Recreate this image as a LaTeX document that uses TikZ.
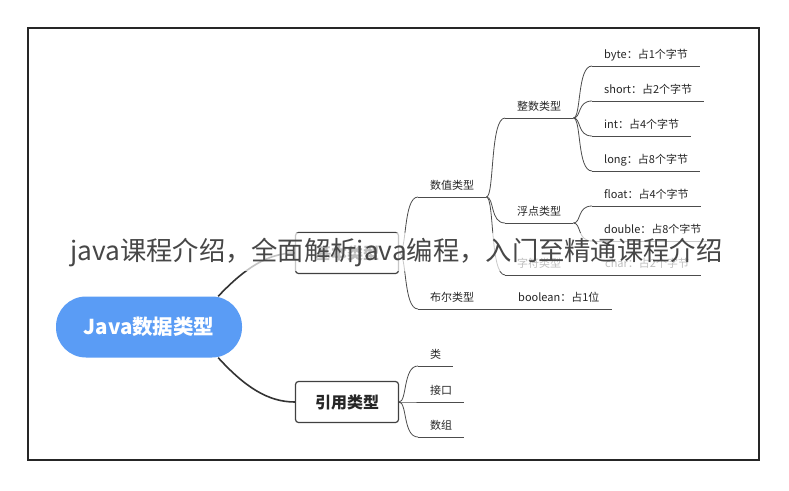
\documentclass[tikz,border=0pt]{standalone}
\usepackage{fontspec}
\setmainfont{Noto Sans CJK SC}
\usetikzlibrary{calc,positioning}
\definecolor{rootblue}{RGB}{90,156,245}
\tikzset{
  box/.style={draw=black!75, line width=1.2pt, rounded corners=3pt, minimum width=103pt, minimum height=41pt, font=\bfseries\fontsize{16}{18}\selectfont, text=black!85},
  item/.style={anchor=south west, inner xsep=12pt, inner ysep=5pt, text height=8.5pt, text depth=2.5pt, font=\fontsize{11}{13}\selectfont, text=black!85},
  uline/.style={draw=black!70, line width=0.8pt},
  link/.style={uline, to path={.. controls ($(\tikztostart)+(8,0)$) and ($(\tikztotarget)+(-15,0)$) .. (\tikztotarget)}},
  trunk/.style={draw=black!80, line width=1.6pt}
}
\begin{document}
\begin{tikzpicture}[x=1pt,y=-1pt]
    \useasboundingbox (0,0) rectangle (789,490);
    \fill[white] (0,0) rectangle (789,490);

    \node[fill=rootblue, rounded corners=30pt, minimum width=186pt, minimum height=61pt, text=white, font=\bfseries\fontsize{20.5}{22}\selectfont] (root) at (149,327) {Java数据类型};
    \node[box] (base) at (347,253) {基本类型};
    \node[box] (ref) at (347,402) {引用类型};

    \node[item] (num) at (418,197) {数值类型};
    \node[item] (bool) at (418,309) {布尔类型};
    \node[item] (boolv) at (506,309) {boolean：占1位};
    \node[item] (intg) at (505,118) {整数类型};
    \node[item] (flt) at (505,223) {浮点类型};
    \node[item] (chr) at (505,275) {字符类型};
    \node[item] (chrv) at (593,275) {char：占2个字节};
    \node[item] (byte) at (592,66) {byte：占1个字节};
    \node[item] (short) at (592,101) {short：占2个字节};
    \node[item] (int) at (592,136) {int：占4个字节};
    \node[item] (long) at (592,171) {long：占8个字节};
    \node[item] (float) at (592,206) {float：占4个字节};
    \node[item] (double) at (592,241) {double：占8个字节};
    \node[item] (cls) at (418,366) {类};
    \node[item] (itf) at (418,402) {接口};
    \node[item] (arr) at (418,437) {数组};

    \draw[trunk] ($(root.north east)+(-24,0)$) .. controls (245,268) and (268,253) .. (base.west);
    \draw[trunk] ($(root.south east)+(-24,0)$) .. controls (245,387) and (268,402) .. (ref.west);

    \draw[link] (base.east) to (num.south west) (base.east) to (bool.south west);
    \foreach \c in {intg,flt,chr} \draw[link] (num.south east) to (\c.south west);
    \foreach \c in {byte,short,int,long} \draw[link] (intg.south east) to (\c.south west);
    \foreach \c in {float,double} \draw[link] (flt.south east) to (\c.south west);
    \foreach \c in {cls,itf,arr} \draw[link] (ref.east) to (\c.south west);
    \draw[uline] (bool.south east) -- (boolv.south west);
    \draw[uline] (chr.south east) -- (chrv.south west);
    \foreach \n in {num,bool,boolv,intg,flt,chr,chrv,byte,short,int,long,float,double,cls,itf,arr}
        \draw[uline] (\n.south west) -- (\n.south east);

    % watermark over the picture
    \node[anchor=base west, fill=white, fill opacity=0.7, text opacity=1, inner xsep=2pt, inner ysep=5pt, font=\fontsize{26.3}{28}\selectfont, text=black!72] (wm) at (68,260) {java课程介绍，全面解析java编程，入门至精通课程介绍};

    \draw[line width=2pt, black!85] (28,28) rectangle (759,460);
\end{tikzpicture}
\end{document}
